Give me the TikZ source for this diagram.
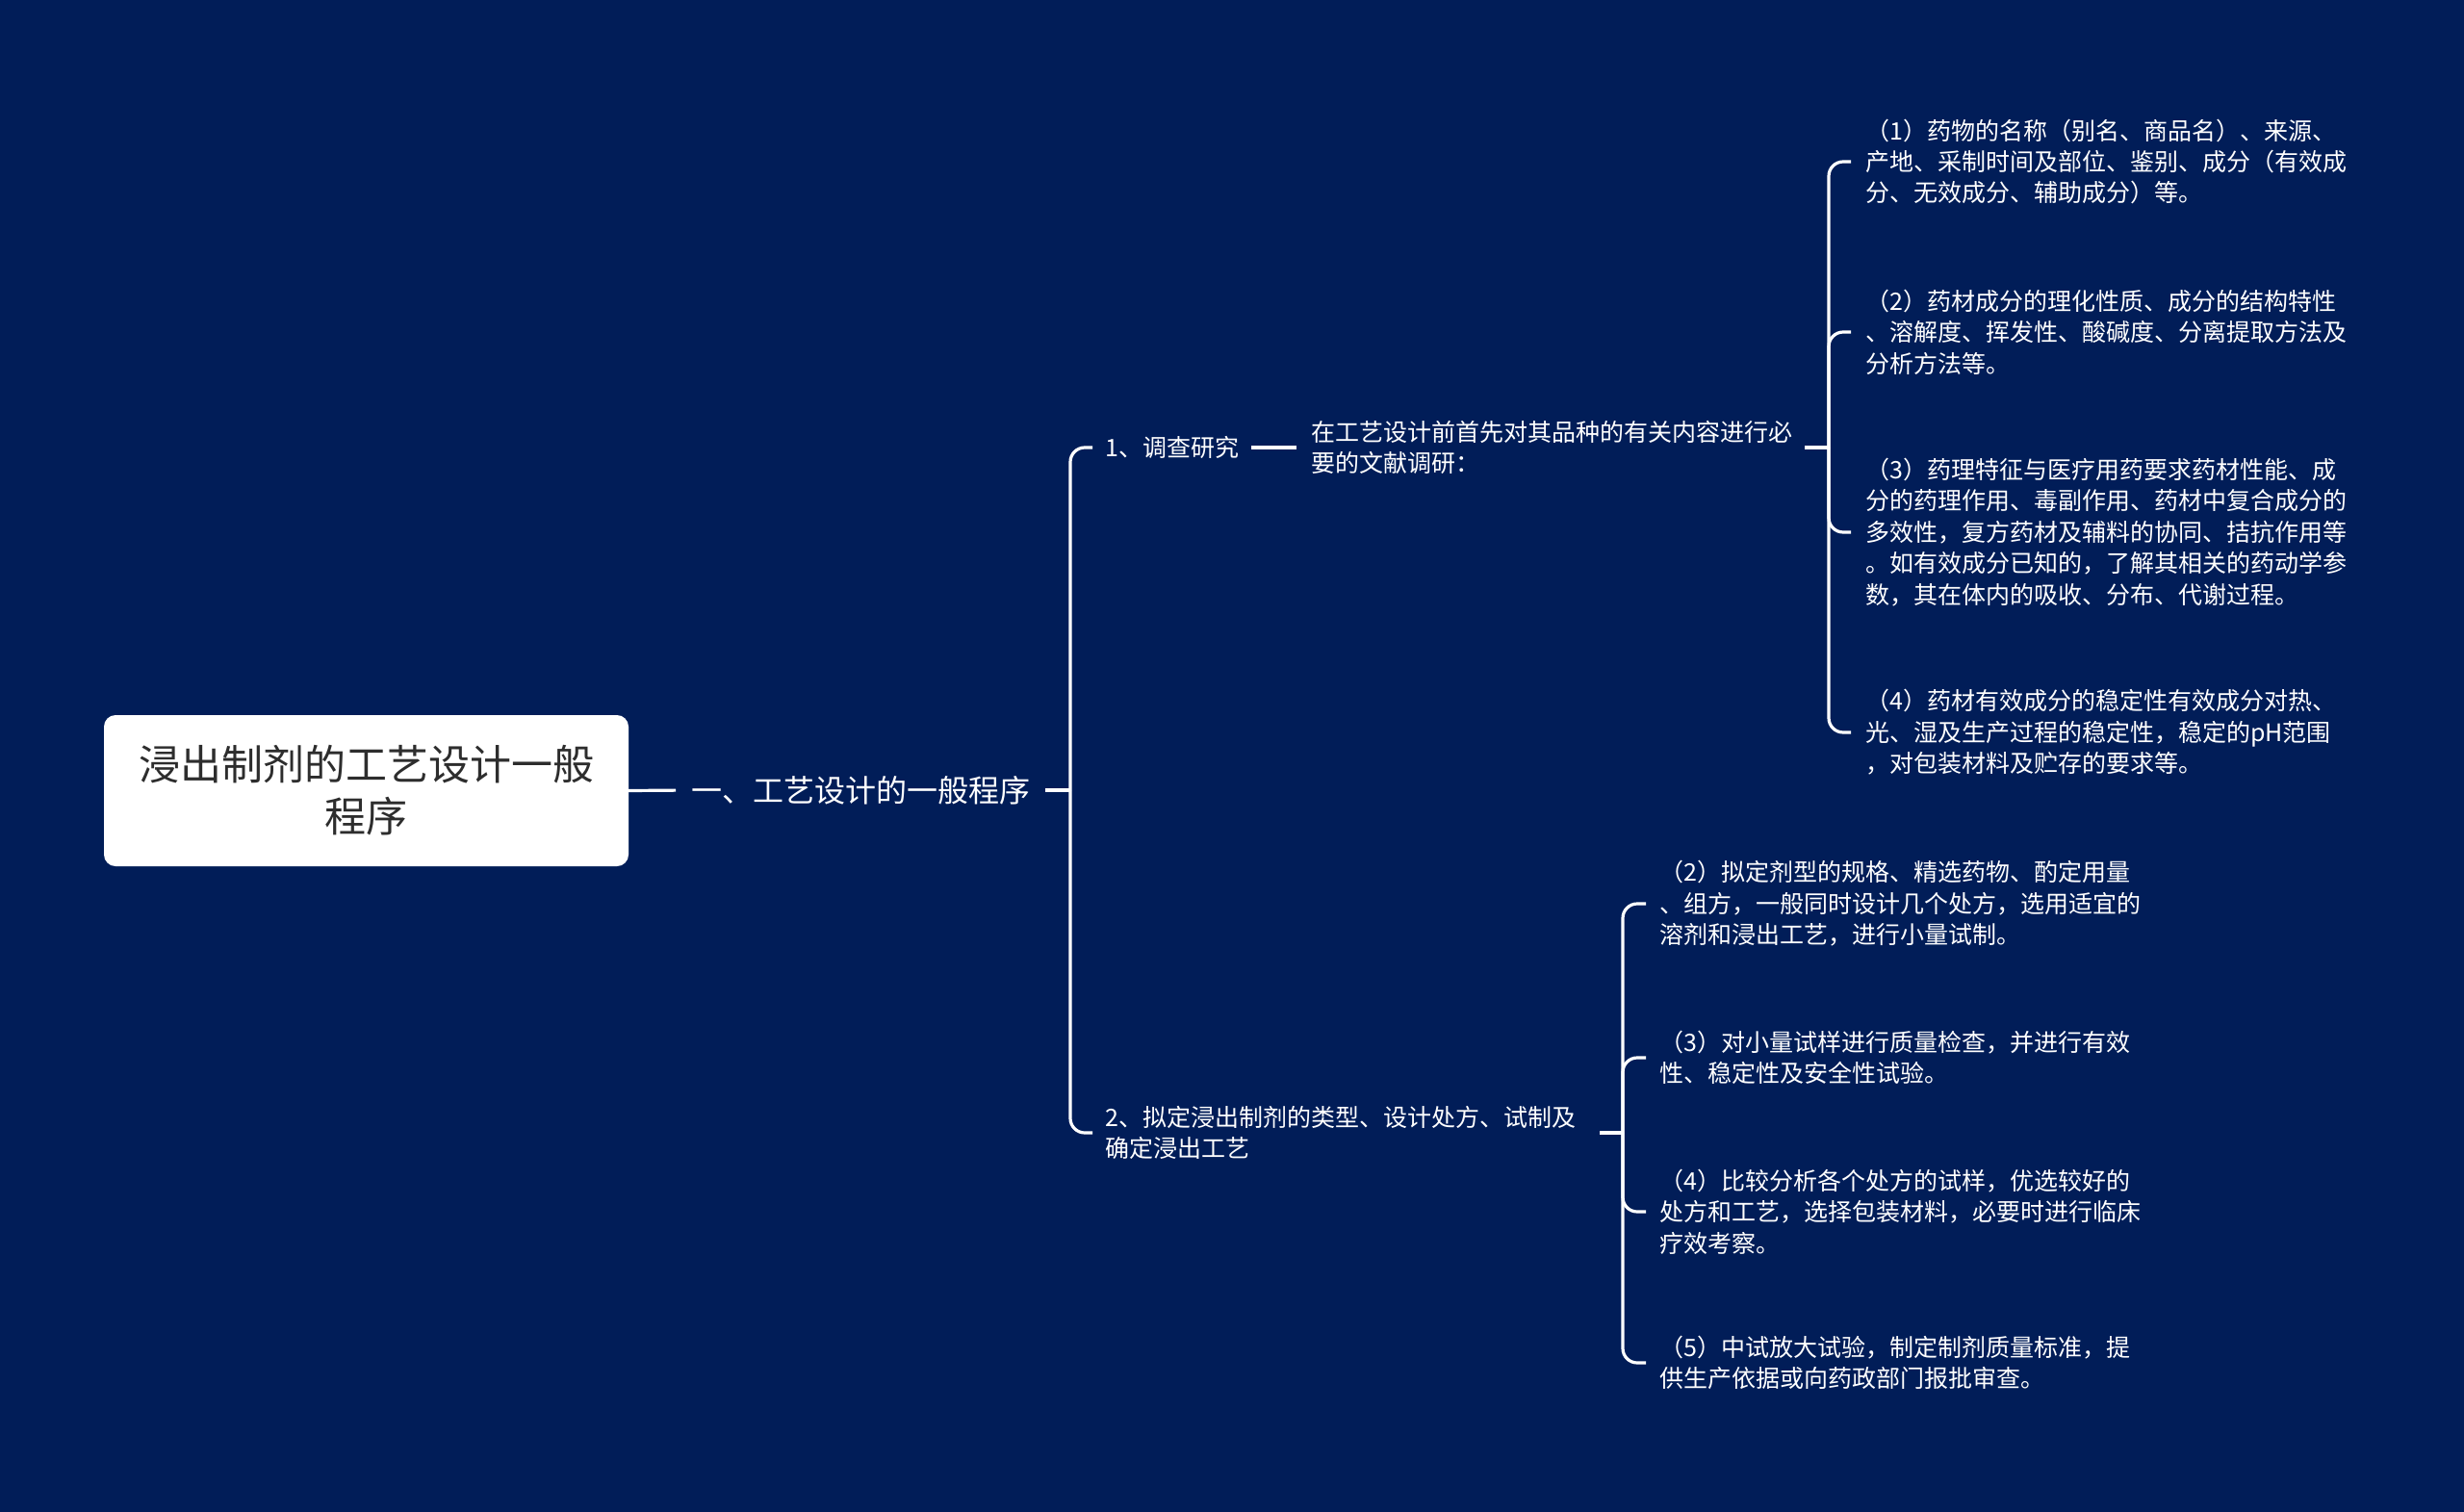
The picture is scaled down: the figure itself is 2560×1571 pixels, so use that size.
\documentclass[tikz,border=0pt]{standalone}
\usepackage{fontspec}
\setmainfont{Noto Sans CJK SC}
\definecolor{bg}{RGB}{1,29,88}
\definecolor{roottext}{RGB}{45,45,45}
\tikzset{
 conn/.style={draw=white, line width=3.2pt},
 brace/.style={conn, rounded corners=15pt},
 rootbox/.style={fill=white, rounded corners=12pt, minimum width=545pt, minimum height=157pt, align=center, text=roottext, font=\fontsize{43}{54}\selectfont, inner sep=0pt},
 lvlone/.style={text=white, font=\fontsize{32}{40}\selectfont, inner sep=0pt, anchor=west},
 txt/.style={text=white, font=\fontsize{25}{32.4}\selectfont, inner sep=0pt, align=left, anchor=west},
}
\begin{document}
\begin{tikzpicture}[x=1pt,y=-1pt]
\fill[bg] (0,0) rectangle (2560,1571);
\useasboundingbox (0,0) rectangle (2560,1571);
% root
\node[rootbox] (root) at (380.5,821.5) {浸出制剂的工艺设计一般\\程序};
\node[lvlone] (l1) at (718,821) {一、工艺设计的一般程序};
\draw[conn, shorten >=16pt] (root.east) -- (l1.west);
\coordinate (b1) at (1112,821);
\draw[conn, shorten <=16pt] (l1.east) -- (b1);
% level 2
\node[txt] (n1) at (1148,465) {1、调查研究};
\node[txt] (n2) at (1148,1177) {2、拟定浸出制剂的类型、设计处方、试制及\\确定浸出工艺};
\draw[brace, shorten >=13pt] (b1) |- (n1.west);
\draw[brace, shorten >=13pt] (b1) |- (n2.west);
% branch 1
\node[txt] (n1a) at (1362,465) {在工艺设计前首先对其品种的有关内容进行必\\要的文献调研：};
\draw[conn, shorten <=13pt, shorten >=15pt] (n1.east) -- (n1a.west);
\coordinate (b2) at (1900,465);
\draw[conn, shorten <=13pt] (n1a.east) -- (b2);
\node[txt] (r1) at (1938,168) {（1）药物的名称（别名、商品名）、来源、\\产地、采制时间及部位、鉴别、成分（有效成\\分、无效成分、辅助成分）等。};
\node[txt] (r2) at (1938,345) {（2）药材成分的理化性质、成分的结构特性\\、溶解度、挥发性、酸碱度、分离提取方法及\\分析方法等。};
\node[txt] (r3) at (1938,553) {（3）药理特征与医疗用药要求药材性能、成\\分的药理作用、毒副作用、药材中复合成分的\\多效性，复方药材及辅料的协同、拮抗作用等\\。如有效成分已知的，了解其相关的药动学参\\数，其在体内的吸收、分布、代谢过程。};
\node[txt] (r4) at (1938,761) {（4）药材有效成分的稳定性有效成分对热、\\光、湿及生产过程的稳定性，稳定的pH范围\\，对包装材料及贮存的要求等。};
\foreach \n in {r1,r2,r3,r4} \draw[brace, shorten >=15pt] (b2) |- (\n.west);
% branch 2
\coordinate (b3) at (1686,1177);
\draw[conn, shorten <=25pt] (n2.east) -- (b3);
\node[txt] (s2) at (1724,939) {（2）拟定剂型的规格、精选药物、酌定用量\\、组方，一般同时设计几个处方，选用适宜的\\溶剂和浸出工艺，进行小量试制。};
\node[txt] (s3) at (1724,1099) {（3）对小量试样进行质量检查，并进行有效\\性、稳定性及安全性试验。};
\node[txt] (s4) at (1724,1259) {（4）比较分析各个处方的试样，优选较好的\\处方和工艺，选择包装材料，必要时进行临床\\疗效考察。};
\node[txt] (s5) at (1724,1416) {（5）中试放大试验，制定制剂质量标准，提\\供生产依据或向药政部门报批审查。};
\foreach \n in {s2,s3,s4,s5} \draw[brace, shorten >=14pt] (b3) |- (\n.west);
\end{tikzpicture}
\end{document}
